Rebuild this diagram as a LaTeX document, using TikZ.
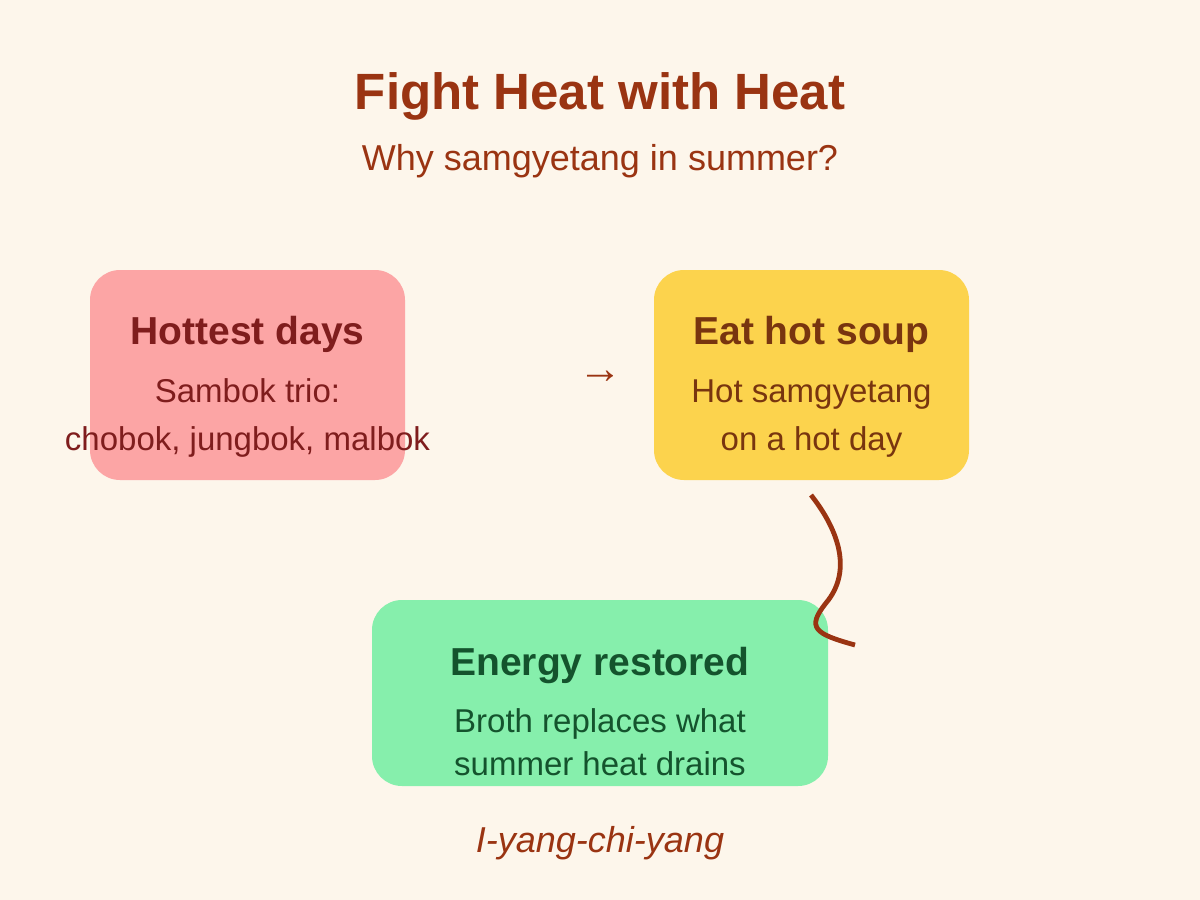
\documentclass[tikz,border=0pt]{standalone}
\usepackage{fontspec}
\setmainfont{Liberation Sans}
\definecolor{bg}{HTML}{FDF6EB}
\definecolor{accent}{HTML}{9A3412}
\definecolor{redfill}{HTML}{FCA5A5}
\definecolor{redtext}{HTML}{7F1D1D}
\definecolor{yelfill}{HTML}{FCD34D}
\definecolor{yeltext}{HTML}{78350F}
\definecolor{grnfill}{HTML}{86EFAC}
\definecolor{grntext}{HTML}{14532D}
\tikzset{
  box/.style={draw=none, rounded corners=30pt, inner sep=0pt},
  head/.style={anchor=base, font=\fontsize{39}{46}\selectfont\bfseries},
  body/.style={anchor=base, align=center, inner sep=0pt},
  link/.style={draw=accent, line width=4.8pt}
}
\begin{document}
\begin{tikzpicture}[x=1pt,y=-1pt]
\useasboundingbox (0,0) rectangle (1200,900);
\fill[bg] (0,0) rectangle (1200,900);
% title
\node[anchor=base, text=accent, font=\fontsize{51}{60}\selectfont\bfseries] (title) at (600,109) {Fight Heat with Heat};
\node[anchor=base, text=accent, font=\fontsize{36}{43}\selectfont] (subtitle) at (600,170) {Why samgyetang in summer?};
% boxes
\node[box, fill=redfill, minimum width=315pt, minimum height=210pt] (hot) at (247.5,375) {};
\node[box, fill=yelfill, minimum width=315pt, minimum height=210pt] (soup) at (811.5,375) {};
\node[box, fill=grnfill, minimum width=456pt, minimum height=186pt] (energy) at (600,693) {};
% texts
\node[head, text=redtext] (hotH) at (247.5,344) {Hottest days};
\node[body, text=redtext, font=\fontsize{33}{48}\selectfont] (hotB1) at (247.5,402) {Sambok trio:};
\node[body, text=redtext, font=\fontsize{33}{48}\selectfont] (hotB2) at (247.5,450) {chobok, jungbok, malbok};
\node[head, text=yeltext] (soupH) at (811.5,344) {Eat hot soup};
\node[body, text=yeltext, font=\fontsize{33}{48}\selectfont] (soupB1) at (811.5,402) {Hot samgyetang};
\node[body, text=yeltext, font=\fontsize{33}{48}\selectfont] (soupB2) at (811.5,450) {on a hot day};
\node[head, text=grntext] (energyH) at (600,675) {Energy restored};
\node[body, text=grntext, font=\fontsize{33}{48}\selectfont] (energyB1) at (600,732) {Broth replaces what};
\node[body, text=grntext, font=\fontsize{33}{48}\selectfont] (energyB2) at (600,775) {summer heat drains};
% arrow glyph
\node[anchor=base, text=accent, font=\fontsize{44}{50}\selectfont] (arr) at (600,383) {→};
% curved connector
\coordinate (cStart) at (811,495);
\coordinate (cEnd) at (855,645);
\draw[link] (cStart) .. controls (840,532) and (852,572) .. (826,603)
  .. controls (806,628) and (815,634) .. (cEnd);
% footer
\node[anchor=base, text=accent, font=\fontsize{36}{43}\selectfont\itshape] (foot) at (600,852) {I-yang-chi-yang};
\end{tikzpicture}
\end{document}
